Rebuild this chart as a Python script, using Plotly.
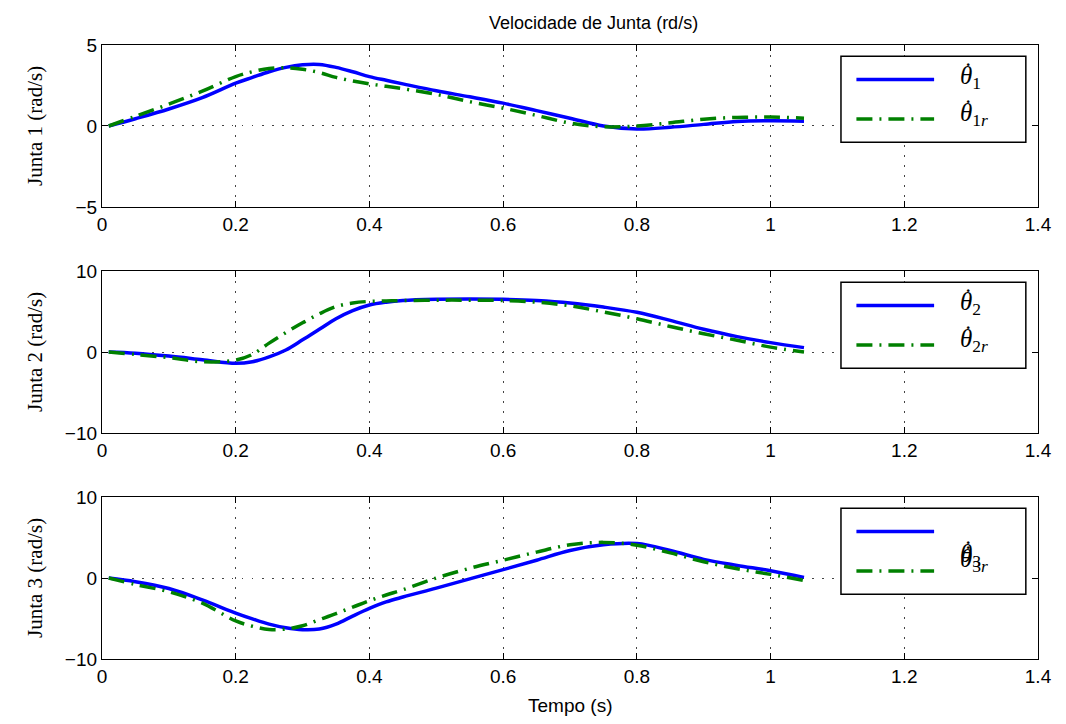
import plotly.graph_objects as go
from plotly.subplots import make_subplots

# ---- data ----
tempo = [0.01, 0.05, 0.10, 0.15, 0.20, 0.225, 0.25, 0.275, 0.30, 0.325, 0.35, 0.375, 0.40,
         0.425, 0.45, 0.50, 0.55, 0.60, 0.65, 0.70, 0.75, 0.80, 0.85, 0.90, 0.95, 1.00, 1.05]

junta1 = [0, 0.45, 1.05, 1.75, 2.64, 3.0, 3.35, 3.62, 3.78, 3.8, 3.62, 3.35, 3.05,
          2.82, 2.6, 2.17, 1.8, 1.41, 0.95, 0.48, 0.0, -0.19, -0.08, 0.1, 0.28, 0.32, 0.3]
junta1_ref = [0, 0.6, 1.35, 2.15, 3.05, 3.35, 3.55, 3.6, 3.5, 3.3, 3.0, 2.78, 2.6,
              2.45, 2.3, 1.95, 1.5, 1.1, 0.65, 0.18, -0.05, 0.0, 0.2, 0.42, 0.53, 0.55, 0.48]

junta2 = [0, -0.15, -0.5, -0.95, -1.4, -1.2, -0.6, 0.25, 1.5, 2.8, 4.1, 5.1, 5.8,
          6.15, 6.35, 6.5, 6.55, 6.5, 6.35, 6.05, 5.55, 4.9, 3.9, 2.8, 1.9, 1.16, 0.54]
junta2_ref = [0, -0.3, -0.7, -1.2, -1.0, -0.3, 1.1, 2.4, 3.6, 4.7, 5.6, 6.05, 6.25,
              6.3, 6.35, 6.4, 6.4, 6.35, 6.15, 5.7, 4.95, 4.1, 3.15, 2.25, 1.45, 0.6, 0.0]

junta3 = [0, -0.45, -1.3, -2.7, -4.33, -5.05, -5.7, -6.15, -6.38, -6.3, -5.7, -4.7, -3.75,
          -2.95, -2.35, -1.25, -0.1, 1.03, 2.2, 3.4, 4.1, 4.25, 3.4, 2.3, 1.55, 0.9, 0.08]
junta3_ref = [0, -0.8, -1.7, -3.1, -5.3, -5.95, -6.35, -6.3, -5.9, -5.15, -4.4, -3.6, -2.8,
              -2.1, -1.45, 0.0, 1.2, 2.2, 3.2, 4.1, 4.4, 4.05, 3.1, 2.0, 1.15, 0.45, -0.3]

y_ranges = [(-5, 5), (-10, 10), (-10, 10)]
y_ticks = [[-5, 0, 5], [-10, 0, 10], [-10, 0, 10]]
x_ticks = [0, 0.2, 0.4, 0.6, 0.8, 1.0, 1.2, 1.4]
x_ticktext = ["0", "0.2", "0.4", "0.6", "0.8", "1", "1.2", "1.4"]
y_titles = ["Junta 1 (rad/s)", "Junta 2 (rad/s)", "Junta 3 (rad/s)"]
leg_main = ["<i>θ</i><sub>1</sub>", "<i>θ</i><sub>2</sub>", "<i>θ</i><sub>3</sub>"]
leg_ref = ["<i>θ</i><sub>1<i>r</i></sub>", "<i>θ</i><sub>2<i>r</i></sub>", "<i>θ</i><sub>3<i>r</i></sub>"]
title = "Velocidade de Junta (rd/s)"
xlabel = "Tempo (s)"

series = [(junta1, junta1_ref), (junta2, junta2_ref), (junta3, junta3_ref)]

BLUE = "#0000FF"
GREEN = "#008000"
DASH = "16px,7px,2px,7px"
SERIF = "Liberation Serif, Times New Roman, serif"
SANS = "Liberation Sans, Arial, sans-serif"

fig = make_subplots(rows=3, cols=1, vertical_spacing=0.1)

domains = [[0.7362, 1.0], [0.3681, 0.6319], [0.0, 0.2638]]

for i, (ys, yr) in enumerate(series):
    r = i + 1
    fig.add_trace(go.Scatter(x=tempo, y=ys, mode="lines",
                             line=dict(color=BLUE, width=3.5, shape="spline", smoothing=1.0),
                             showlegend=False), row=r, col=1)
    fig.add_trace(go.Scatter(x=tempo, y=yr, mode="lines",
                             line=dict(color=GREEN, width=3.5, shape="spline", smoothing=1.0, dash=DASH),
                             showlegend=False), row=r, col=1)
    axis_common = dict(showline=True, linecolor="black", linewidth=1.2, mirror="allticks",
                       ticks="inside", ticklen=6, tickcolor="black",
                       showgrid=True, gridcolor="#444444", griddash="1.5px,8.5px", gridwidth=1.2,
                       zeroline=False,
                       tickfont=dict(family=SANS, size=19, color="black"))
    fig.update_xaxes(range=[0, 1.4], tickvals=x_ticks, ticktext=x_ticktext,
                     **axis_common, row=r, col=1)
    fig.update_yaxes(range=list(y_ranges[i]), tickvals=y_ticks[i],
                     ticktext=[("−" if v < 0 else "") + str(abs(v)) for v in y_ticks[i]],
                     domain=domains[i], **axis_common, row=r, col=1)

    xd = "x domain" if r == 1 else f"x{r} domain"
    yd = "y domain" if r == 1 else f"y{r} domain"
    # legend box
    fig.add_shape(type="rect", xref=xd, yref=yd, x0=0.7895, x1=0.987, y0=0.40, y1=0.93,
                  line=dict(color="black", width=1.5), fillcolor="white", layer="above")
    fig.add_shape(type="line", xref=xd, yref=yd, x0=0.806, x1=0.889, y0=0.787, y1=0.787,
                  line=dict(color=BLUE, width=3.5), layer="above")
    fig.add_shape(type="line", xref=xd, yref=yd, x0=0.806, x1=0.889, y0=0.543, y1=0.543,
                  line=dict(color=GREEN, width=3.5, dash=DASH), layer="above")
    if r < 3:
        ym, yrr = 0.80, 0.57
    else:
        ym, yrr = 0.64, 0.61
    for txt, yy in ((leg_main[i], ym), (leg_ref[i], yrr)):
        fig.add_annotation(xref=xd, yref=yd, x=0.915, y=yy, text=txt, showarrow=False,
                           xanchor="left", yanchor="middle",
                           font=dict(family=SERIF, size=25, color="black"))
        fig.add_annotation(xref=xd, yref=yd, x=0.915, y=yy, text="˙", showarrow=False,
                           xanchor="left", yanchor="middle", xshift=4, yshift=6,
                           font=dict(family=SERIF, size=25, color="black"))
    # y axis title
    fig.add_annotation(xref="paper", yref=yd, x=-0.0716, y=0.5, text=y_titles[i], showarrow=False,
                       textangle=-90, xanchor="center", yanchor="middle",
                       font=dict(family=SERIF, size=21, color="black"))

fig.add_annotation(xref="paper", yref="paper", x=0.5256, y=1.0, yshift=22, text=title, showarrow=False,
                   xanchor="center", yanchor="middle",
                   font=dict(family=SANS, size=18, color="black"))
fig.add_annotation(xref="paper", yref="paper", x=0.5, y=0.0, yshift=-46, text=xlabel, showarrow=False,
                   xanchor="center", yanchor="middle",
                   font=dict(family=SANS, size=19, color="black"))

fig.update_layout(width=1066, height=724, margin=dict(l=102, r=28, t=45, b=65),
                  plot_bgcolor="white", paper_bgcolor="white", showlegend=False)

fig.write_html("out.html", config={"displayModeBar": False},
               post_script="document.body.style.margin='0px';")
